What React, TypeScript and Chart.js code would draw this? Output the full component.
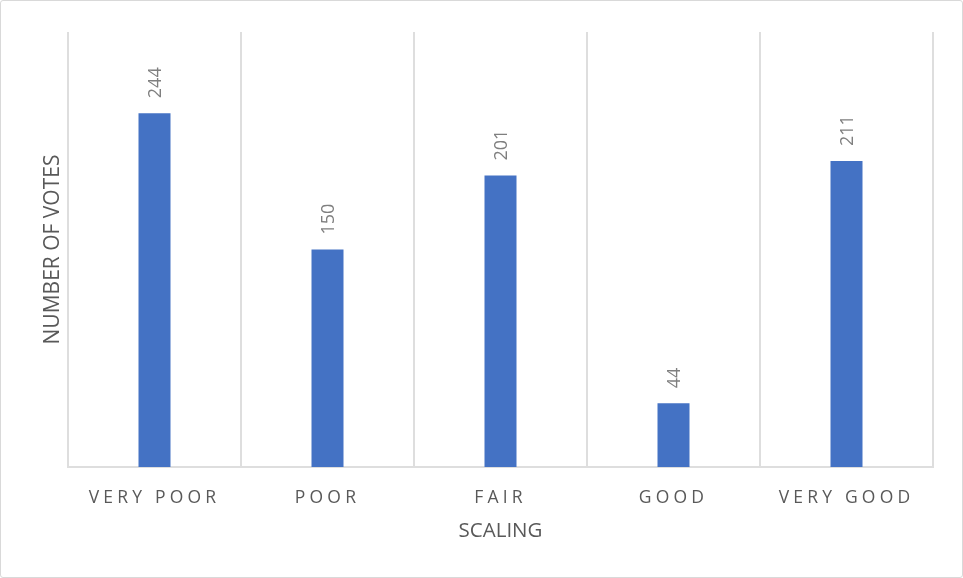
import React, { useEffect, useRef } from "react";
import { Chart, registerables } from "chart.js";

Chart.register(...registerables);

const categories = ["VERY POOR", "POOR", "FAIR", "GOOD", "VERY GOOD"];
const votes = [244, 150, 201, 44, 211];
const yMin = 0;
const yMax = 300;
const xTitle = "SCALING";
const yTitle = "NUMBER OF VOTES";

const FONT = "'Open Sans', 'Noto Sans', sans-serif";

export default function App() {
  const ref = useRef<HTMLCanvasElement | null>(null);

  useEffect(() => {
    document.body.style.margin = "0";
    const canvas = ref.current!;
    const labelPlugin = {
      id: "barLabels",
      afterDatasetsDraw(chart: any) {
        const ctx = chart.ctx;
        const meta = chart.getDatasetMeta(0);
        ctx.save();
        ctx.fillStyle = "#7f7f7f";
        ctx.font = `18px ${FONT}`;
        ctx.textAlign = "left";
        ctx.textBaseline = "middle";
        meta.data.forEach((bar: any, i: number) => {
          ctx.save();
          ctx.translate(bar.x, bar.y - 15);
          ctx.rotate(-Math.PI / 2);
          ctx.fillText(String(votes[i]), 0, 1);
          ctx.restore();
        });
        ctx.restore();
        (ctx as any).letterSpacing = "4.2px";
      },
      afterDraw(chart: any) {
        (chart.ctx as any).letterSpacing = "0px";
      },
    };

    const chart = new Chart(canvas, {
      type: "bar",
      data: {
        labels: categories,
        datasets: [
          {
            data: votes,
            backgroundColor: "#4472C4",
            categoryPercentage: 1,
            barPercentage: 0.185,
          },
        ],
      },
      options: {
        responsive: false,
        animation: false,
        devicePixelRatio: 1,
        layout: { padding: { top: 31, right: 29, bottom: 0, left: 0 } },
        plugins: { legend: { display: false }, tooltip: { enabled: false } },
        scales: {
          x: {
            grid: { color: "#dedede", lineWidth: 2, drawTicks: false, offset: true },
            border: { color: "#dedede", width: 2 },
            ticks: {
              color: "#595959",
              font: { family: FONT, size: 17.5 },
              padding: 21,
              maxRotation: 0,
              autoSkip: false,
              z: 1,
            },
            title: {
              display: true,
              text: xTitle,
              color: "#595959",
              font: { family: FONT, size: 20.5 },
              padding: { top: 0, bottom: 34 },
            },
            afterFit(scale: any) {
              scale.height = 110;
            },
          },
          y: {
            min: yMin,
            max: yMax,
            grid: { display: false },
            border: { display: false },
            ticks: { display: false },
            title: {
              display: true,
              text: yTitle,
              color: "#595959",
              font: { family: FONT, size: 21 },
              padding: { top: 39, bottom: 0 },
            },
            afterFit(scale: any) {
              scale.width = 67;
            },
          },
        },
      },
      plugins: [labelPlugin],
    });
    return () => chart.destroy();
  }, []);

  return (
    <div
      style={{
        position: "absolute",
        left: 0,
        top: 0,
        width: 963,
        height: 578,
        boxSizing: "border-box",
        border: "1px solid #d9d9d9",
        borderRadius: 3,
        background: "#fff",
      }}
    >
      <canvas ref={ref} width={961} height={576} style={{ display: "block" }} />
    </div>
  );
}
